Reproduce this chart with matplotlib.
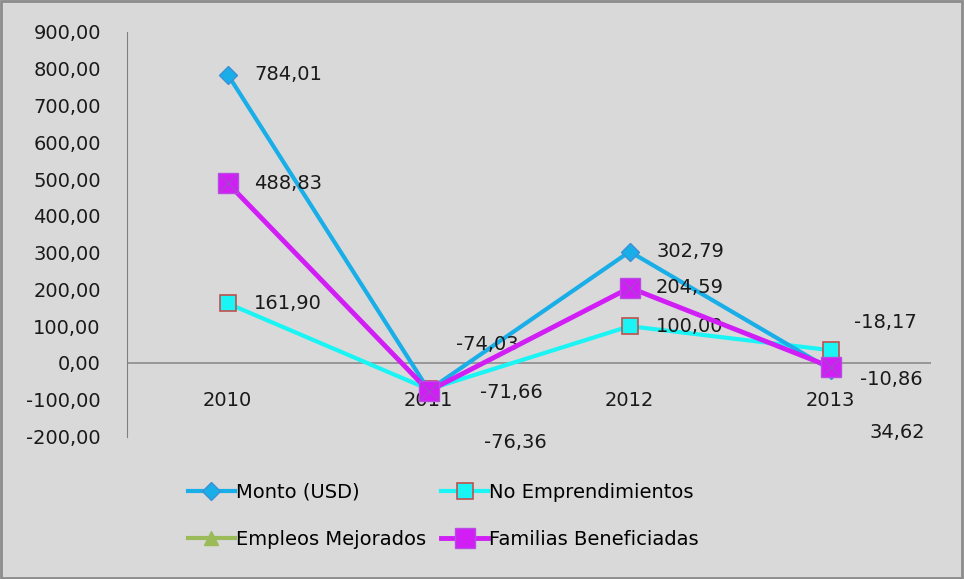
import numpy as np
import matplotlib.pyplot as plt
from matplotlib.patches import Rectangle

# data
years = ['2010', '2011', '2012', '2013']
monto = [784.01, -74.03, 302.79, -18.17]
emprend = [161.90, -71.66, 100.00, 34.62]
empleos = [np.nan, np.nan, np.nan, np.nan]
familias = [488.83, -76.36, 204.59, -10.86]

# where the (moved) labels for 2011 and 2013 sit: (x, y) in data units
moved_labels = {
    ('monto', 1): (1.29, 49), ('emprend', 1): (1.41, -79), ('familias', 1): (1.43, -215),
    ('monto', 3): (3.27, 109), ('familias', 3): (3.30, -46), ('emprend', 3): (3.33, -190),
}

bg = '#d9d9d9'
fs = 14

fig = plt.figure(figsize=(9.64, 5.79), dpi=100, facecolor=bg)
ax = fig.add_axes([0.132, 0.246, 0.834, 0.699])
ax.set_facecolor(bg)
x = np.arange(len(years))

l1, = ax.plot(x, monto, color='#19aee8', lw=3, marker='D', ms=9,
              mfc='#19aee8', mec='#3d8fd6', zorder=3)
l2, = ax.plot(x, emprend, color='#1af4f4', lw=3, marker='s', ms=12,
              mfc='#1af4f4', mec='#c0504d', mew=1.2, zorder=2)
l3, = ax.plot(x, empleos, color='#9bbb59', lw=3, marker='^', ms=10,
              mfc='#9bbb59', mec='#9bbb59', zorder=2)
l4, = ax.plot(x, familias, color='#d01ef5', lw=3.5, marker='s', ms=15,
              mfc='#d01ef5', mec='#b84ce0', zorder=4)
ax.plot(x, familias, ls='none', marker='x', ms=11, mec='#9a4fc0', mew=0.8, zorder=5)

series = {'monto': monto, 'emprend': emprend, 'familias': familias}
for name, vals in series.items():
    for i, v in enumerate(vals):
        txt = f'{v:.2f}'.replace('.', ',')
        if (name, i) in moved_labels:
            tx, ty = moved_labels[(name, i)]
            ax.text(tx, ty, txt, fontsize=fs, ha='center', va='center', color='#1a1a1a')
        else:
            ax.annotate(txt, (i, v), xytext=(19, 0), textcoords='offset points',
                        fontsize=fs, ha='left', va='center', color='#1a1a1a')

ax.set_xlim(-0.5, 3.5)
ax.set_ylim(-200, 900)
ax.set_yticks(np.arange(-200, 901, 100))
ax.set_yticklabels([f'{v:.2f}'.replace('.', ',') for v in np.arange(-200, 901, 100)],
                   fontsize=fs, color='#1a1a1a')
ax.set_xticks([])
ax.tick_params(axis='y', length=0, pad=19)
for s in ['top', 'right', 'bottom']:
    ax.spines[s].set_visible(False)
ax.spines['left'].set_color('#808080')
ax.axhline(0, color='#8c8c8c', lw=1.2, zorder=1)
for i, yr in enumerate(years):
    ax.text(i, -103, yr, fontsize=fs, ha='center', va='center', color='#1a1a1a')

# column-wise fill, so order gives rows: Monto | No Empr. / Empleos | Familias
leg = fig.legend([l1, l3, l2, l4],
                 ['Monto (USD)', 'Empleos Mejorados', 'No Emprendimientos', 'Familias Beneficiadas'],
                 loc='center left', bbox_to_anchor=(0.177, 0.109), ncol=2, frameon=False,
                 fontsize=fs, handlelength=2.4, handletextpad=0.05, columnspacing=0.8,
                 labelspacing=1.45)

fig.patches.append(Rectangle((0.001, 0.002), 0.997, 0.996, transform=fig.transFigure,
                             fill=False, ec='#8c8c8c', lw=2))

fig.savefig('out.png', dpi=100, facecolor=bg)
